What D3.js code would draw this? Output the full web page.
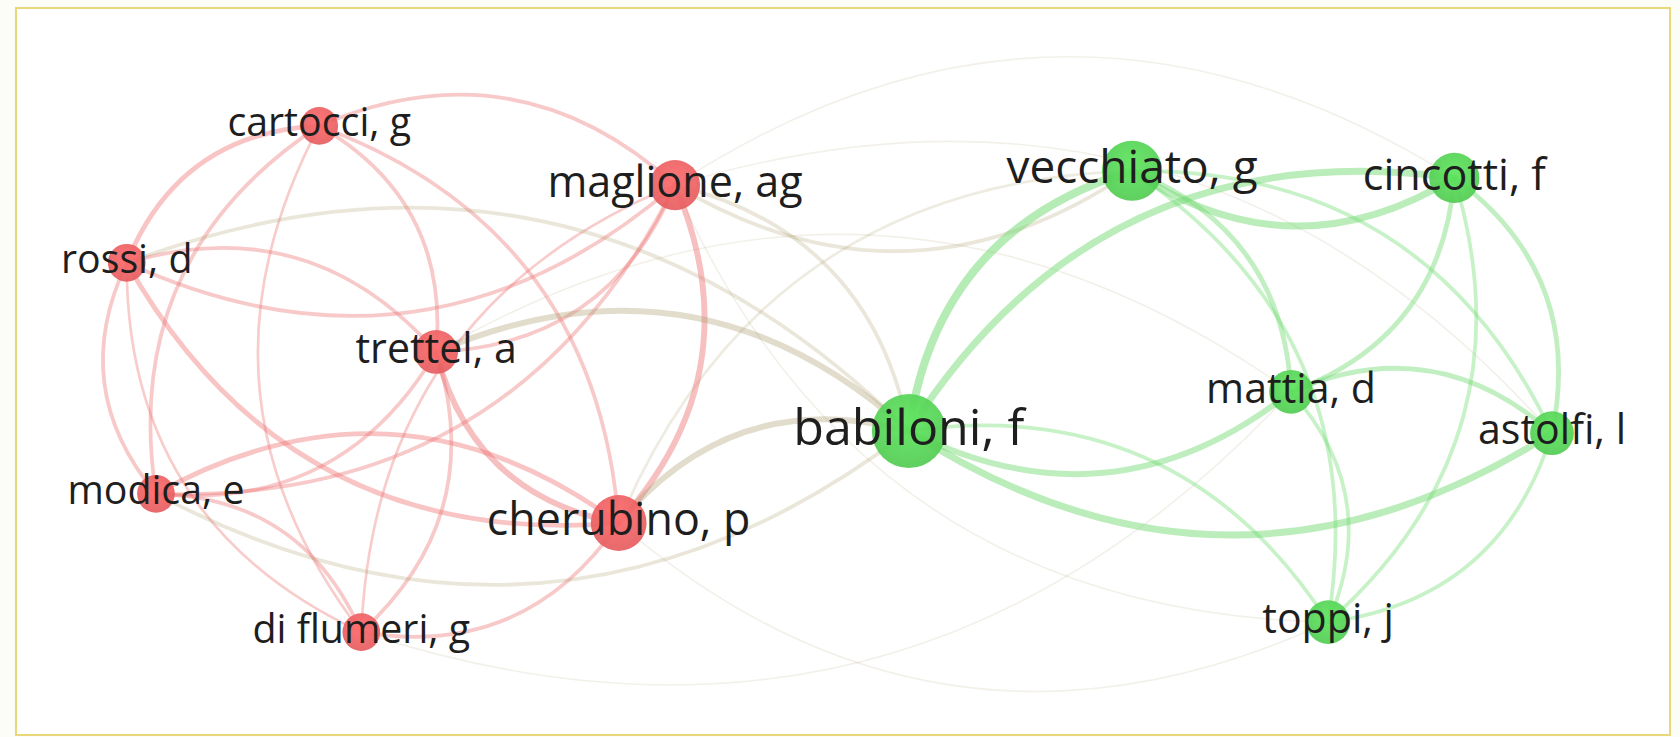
<!DOCTYPE html>
<html>
<head>
<meta charset="utf-8">
<script src="https://cdn.jsdelivr.net/npm/d3@7"></script>
<style>
  html, body { margin: 0; padding: 0; background: #ffffff; }
  svg { display: block; }
  text { font-family: "Open Sans", "Noto Sans", sans-serif; }
</style>
</head>
<body>
<svg id="chart" width="1680" height="737"></svg>
<script>
// ---- data (layout coordinates as in a VOSviewer map, weights = documents) ----
const nodeNames   = ["cartocci, g", "maglione, ag", "rossi, d", "trettel, a", "modica, e", "cherubino, p", "di flumeri, g",
                     "babiloni, f", "vecchiato, g", "cincotti, f", "mattia, d", "astolfi, l", "toppi, j"];
const nodeX       = [-0.729, -0.230, -0.999, -0.565, -0.958, -0.309, -0.670, 0.098, 0.411, 0.863, 0.634, 1.000, 0.686];
const nodeY       = [0.355, 0.272, 0.163, 0.038, -0.161, -0.202, -0.355, -0.073, 0.292, 0.282, -0.018, -0.076, -0.341];
const nodeWeight  = [26, 46, 26, 35, 26, 57, 26, 100, 66, 46, 35, 35, 35];
const nodeCluster = [1, 1, 1, 1, 1, 1, 1, 2, 2, 2, 2, 2, 2];

// links: [source, target, strength]; curves bend to the left of source -> target
const links = [
  ["cartocci, g", "maglione, ag", 3],
  ["rossi, d", "cartocci, g", 4],
  ["cartocci, g", "trettel, a", 3],
  ["cartocci, g", "cherubino, p", 3],
  ["modica, e", "cartocci, g", 3],
  ["di flumeri, g", "cartocci, g", 2],
  ["maglione, ag", "rossi, d", 3],
  ["rossi, d", "trettel, a", 3],
  ["cherubino, p", "rossi, d", 4],
  ["modica, e", "rossi, d", 3],
  ["di flumeri, g", "rossi, d", 2],
  ["maglione, ag", "cherubino, p", 5],
  ["maglione, ag", "trettel, a", 3],
  ["maglione, ag", "modica, e", 3],
  ["di flumeri, g", "maglione, ag", 2],
  ["cherubino, p", "trettel, a", 5],
  ["trettel, a", "modica, e", 3],
  ["trettel, a", "di flumeri, g", 3],
  ["modica, e", "cherubino, p", 4],
  ["modica, e", "di flumeri, g", 3],
  ["cherubino, p", "di flumeri, g", 3],
  ["rossi, d", "babiloni, f", 3],
  ["trettel, a", "babiloni, f", 5],
  ["maglione, ag", "babiloni, f", 3],
  ["babiloni, f", "modica, e", 3],
  ["cherubino, p", "babiloni, f", 5],
  ["vecchiato, g", "maglione, ag", 3],
  ["maglione, ag", "cincotti, f", 1],
  ["maglione, ag", "astolfi, l", 1],
  ["cherubino, p", "vecchiato, g", 2],
  ["toppi, j", "cherubino, p", 1],
  ["toppi, j", "maglione, ag", 1],
  ["mattia, d", "di flumeri, g", 1],
  ["trettel, a", "mattia, d", 1],
  ["babiloni, f", "vecchiato, g", 7],
  ["babiloni, f", "cincotti, f", 6],
  ["cincotti, f", "vecchiato, g", 6],
  ["vecchiato, g", "mattia, d", 4],
  ["vecchiato, g", "astolfi, l", 3],
  ["vecchiato, g", "toppi, j", 3],
  ["mattia, d", "babiloni, f", 5],
  ["astolfi, l", "babiloni, f", 6],
  ["babiloni, f", "toppi, j", 3],
  ["cincotti, f", "mattia, d", 4],
  ["cincotti, f", "astolfi, l", 4],
  ["cincotti, f", "toppi, j", 3],
  ["mattia, d", "astolfi, l", 4],
  ["mattia, d", "toppi, j", 3],
  ["astolfi, l", "toppi, j", 3]
];

// ---- build ----
const nodes = nodeNames.map((n, i) => ({ name: n, x: nodeX[i], y: nodeY[i], w: nodeWeight[i], c: nodeCluster[i] }));
const byName = new Map(nodes.map(d => [d.name, d]));

const svg = d3.select("#chart");
const W = 1680, H = 737;

const xScale = d3.scaleLinear().domain([-1, 1]).range([126, 1552]);
const yScale = d3.scaleLinear().domain([-0.5, 0.5]).range([735.5, 22.5]);
const rScale = d3.scaleSqrt().domain([0, 100]).range([0, 37]);
const fScale = d3.scaleLinear().domain([19, 37]).range([39.4, 50.2]);
const wScale = d3.scaleLinear().domain([1, 7]).range([1.6, 8]);

const clusterColor = { 1: "#ec6062", 2: "#55d255" };
const edgeRGB = { 1: [238, 115, 115], 2: [110, 218, 110] };

// frame
svg.append("rect").attr("x", 0).attr("y", 0).attr("width", W).attr("height", H).attr("fill", "#fdfdf8");
svg.append("rect").attr("x", 16).attr("y", 8).attr("width", 1654).attr("height", 727)
  .attr("fill", "#ffffff").attr("stroke", "#ead77a").attr("stroke-width", 2);

// gradients
const defs = svg.append("defs");
[1, 2].forEach(c => {
  const base = d3.color(clusterColor[c]);
  const g = defs.append("radialGradient").attr("id", "grad" + c)
    .attr("cx", "50%").attr("cy", "40%").attr("r", "65%");
  g.append("stop").attr("offset", "0%").attr("stop-color", base.brighter(0.25));
  g.append("stop").attr("offset", "100%").attr("stop-color", base.darker(0.12));
});

// edges
const BEND = 0.32;
function edgePath(l) {
  const s = byName.get(l[0]), t = byName.get(l[1]);
  const x1 = xScale(s.x), y1 = yScale(s.y), x2 = xScale(t.x), y2 = yScale(t.y);
  const dx = x2 - x1, dy = y2 - y1, L = Math.hypot(dx, dy);
  const nx = dy / L, ny = -dx / L; // left normal (screen coords)
  const cx = (x1 + x2) / 2 + nx * L * BEND, cy = (y1 + y2) / 2 + ny * L * BEND;
  const p = d3.path();
  p.moveTo(x1, y1);
  p.quadraticCurveTo(cx, cy, x2, y2);
  return p.toString();
}
function edgeColor(l) {
  const s = byName.get(l[0]), t = byName.get(l[1]);
  const a = edgeRGB[s.c];
  if (s.c === t.c) return `rgba(${a[0]},${a[1]},${a[2]},${(0.3 + 0.03 * l[2]).toFixed(2)})`;
  return `rgba(170,155,105,${(0.1 + 0.05 * l[2]).toFixed(2)})`;
}

svg.append("g").attr("fill", "none")
  .selectAll("path")
  .data(links.slice().sort((a, b) => a[2] - b[2]))
  .join("path")
  .attr("d", edgePath)
  .attr("stroke", edgeColor)
  .attr("stroke-width", d => wScale(d[2]))
  .attr("stroke-linecap", "round");

// nodes
svg.append("g").selectAll("circle")
  .data(nodes)
  .join("circle")
  .attr("cx", d => xScale(d.x))
  .attr("cy", d => yScale(d.y))
  .attr("r", d => rScale(d.w))
  .attr("fill", d => `url(#grad${d.c})`)
  .attr("fill-opacity", 0.92);

// labels
svg.append("g").selectAll("text")
  .data(nodes)
  .join("text")
  .attr("x", d => xScale(d.x))
  .attr("y", d => yScale(d.y))
  .attr("dy", "0.27em")
  .attr("text-anchor", "middle")
  .attr("font-size", d => fScale(rScale(d.w)).toFixed(1) + "px")
  .attr("fill", "#1e1e1e")
  .text(d => d.name);
</script>
</body>
</html>
